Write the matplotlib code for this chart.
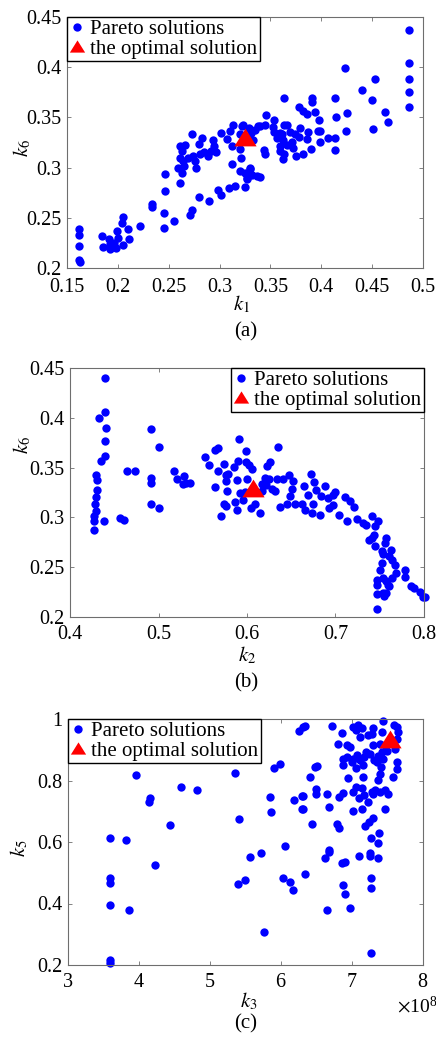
import numpy as np
import matplotlib.pyplot as plt
from matplotlib.path import Path
from matplotlib.ticker import FormatStrFormatter, ScalarFormatter

plt.rcParams['font.family'] = ['Liberation Serif', 'DejaVu Serif']
plt.rcParams['mathtext.fontset'] = 'stix'

# Pareto front, k1 vs k6
k1_a = [0.162, 0.162, 0.162, 0.162, 0.163, 0.184, 0.185, 0.191, 0.192, 0.192, 0.196, 0.198, 0.199,
        0.200, 0.205, 0.205, 0.204, 0.210, 0.211, 0.222, 0.234, 0.234, 0.245, 0.245, 0.255, 0.246,
        0.246, 0.261, 0.259, 0.261, 0.263, 0.261, 0.264, 0.265, 0.263, 0.266, 0.269, 0.274, 0.277,
        0.276, 0.280, 0.283, 0.281, 0.285, 0.289, 0.292, 0.294, 0.295, 0.296, 0.273, 0.271, 0.273,
        0.280, 0.290, 0.298, 0.301, 0.309, 0.315, 0.325, 0.312, 0.320, 0.325, 0.330, 0.327, 0.332,
        0.337, 0.301, 0.307, 0.313, 0.310, 0.312, 0.320, 0.323, 0.320, 0.321, 0.331, 0.333, 0.338,
        0.486, 0.486, 0.486, 0.486, 0.486, 0.423, 0.453, 0.440, 0.450, 0.463, 0.466, 0.451, 0.413,
        0.414, 0.425, 0.424, 0.413, 0.413, 0.407, 0.399, 0.399, 0.398, 0.394, 0.391, 0.391, 0.386,
        0.382, 0.378, 0.363, 0.397, 0.387, 0.386, 0.390, 0.382, 0.375, 0.379, 0.378, 0.374, 0.371,
        0.369, 0.372, 0.366, 0.366, 0.363, 0.361, 0.359, 0.359, 0.359, 0.362, 0.363, 0.362, 0.356,
        0.354, 0.353, 0.354, 0.346, 0.345, 0.340, 0.344, 0.345, 0.335, 0.331, 0.329, 0.322, 0.330,
        0.327, 0.327, 0.340]
k6_a = [0.239, 0.233, 0.222, 0.208, 0.206, 0.232, 0.221, 0.229, 0.224, 0.219, 0.225, 0.220, 0.237,
        0.230, 0.223, 0.251, 0.245, 0.239, 0.229, 0.242, 0.264, 0.261, 0.255, 0.240, 0.247, 0.277,
        0.294, 0.285, 0.300, 0.322, 0.317, 0.310, 0.307, 0.302, 0.295, 0.323, 0.310, 0.312, 0.300,
        0.307, 0.324, 0.329, 0.314, 0.316, 0.312, 0.317, 0.327, 0.322, 0.316, 0.333, 0.253, 0.258,
        0.271, 0.267, 0.278, 0.273, 0.280, 0.282, 0.281, 0.304, 0.297, 0.295, 0.300, 0.290, 0.293,
        0.292, 0.334, 0.328, 0.342, 0.336, 0.322, 0.333, 0.342, 0.319, 0.310, 0.337, 0.327, 0.341,
        0.437, 0.404, 0.388, 0.375, 0.360, 0.399, 0.388, 0.377, 0.367, 0.355, 0.345, 0.338, 0.369,
        0.350, 0.354, 0.336, 0.329, 0.318, 0.329, 0.325, 0.336, 0.347, 0.355, 0.369, 0.365, 0.353,
        0.356, 0.360, 0.369, 0.336, 0.335, 0.328, 0.319, 0.314, 0.312, 0.339, 0.330, 0.333, 0.325,
        0.335, 0.320, 0.323, 0.342, 0.342, 0.333, 0.334, 0.322, 0.317, 0.309, 0.314, 0.327, 0.329,
        0.335, 0.340, 0.347, 0.352, 0.342, 0.341, 0.318, 0.314, 0.337, 0.334, 0.339, 0.341, 0.299,
        0.294, 0.289, 0.291]
best_a = (0.325, 0.330)

# Pareto front, k2 vs k6
k2_b = [0.439, 0.439, 0.433, 0.441, 0.439, 0.439, 0.435, 0.429, 0.431, 0.431, 0.429, 0.428, 0.429,
        0.427, 0.427, 0.438, 0.427, 0.457, 0.461, 0.464, 0.473, 0.491, 0.500, 0.492, 0.491, 0.492,
        0.501, 0.517, 0.521, 0.529, 0.528, 0.531, 0.536, 0.552, 0.557, 0.564, 0.567, 0.567, 0.564,
        0.571, 0.574, 0.576, 0.579, 0.576, 0.577, 0.574, 0.576, 0.586, 0.589, 0.585, 0.590, 0.591,
        0.589, 0.592, 0.599, 0.635, 0.599, 0.602, 0.606, 0.623, 0.626, 0.600, 0.620, 0.625, 0.617,
        0.621, 0.628, 0.632, 0.617, 0.598, 0.596, 0.609, 0.605, 0.615, 0.634, 0.641, 0.648, 0.652,
        0.637, 0.645, 0.649, 0.651, 0.654, 0.662, 0.666, 0.664, 0.669, 0.672, 0.676, 0.678, 0.675,
        0.674, 0.683, 0.684, 0.688, 0.691, 0.693, 0.697, 0.699, 0.697, 0.704, 0.711, 0.716, 0.721,
        0.713, 0.724, 0.731, 0.735, 0.741, 0.748, 0.745, 0.743, 0.741, 0.738, 0.745, 0.757, 0.756,
        0.752, 0.754, 0.760, 0.763, 0.764, 0.767, 0.752, 0.750, 0.747, 0.747, 0.747, 0.747, 0.757,
        0.760, 0.757, 0.755, 0.764, 0.768, 0.779, 0.779, 0.785, 0.789, 0.795, 0.799, 0.801, 0.754,
        0.754, 0.759]
k6_b = [0.440, 0.406, 0.400, 0.390, 0.377, 0.362, 0.357, 0.343, 0.338, 0.328, 0.320, 0.313, 0.306,
        0.301, 0.296, 0.296, 0.287, 0.299, 0.297, 0.347, 0.347, 0.389, 0.371, 0.340, 0.335, 0.313,
        0.309, 0.347, 0.339, 0.342, 0.334, 0.335, 0.335, 0.361, 0.353, 0.368, 0.370, 0.347, 0.331,
        0.301, 0.354, 0.343, 0.344, 0.337, 0.327, 0.313, 0.311, 0.315, 0.307, 0.351, 0.357, 0.379,
        0.338, 0.324, 0.367, 0.371, 0.356, 0.353, 0.349, 0.352, 0.356, 0.339, 0.340, 0.339, 0.334,
        0.333, 0.329, 0.327, 0.327, 0.326, 0.317, 0.313, 0.309, 0.304, 0.339, 0.339, 0.343, 0.337,
        0.310, 0.313, 0.321, 0.329, 0.313, 0.313, 0.307, 0.332, 0.322, 0.344, 0.336, 0.328, 0.313,
        0.304, 0.302, 0.321, 0.332, 0.319, 0.309, 0.312, 0.326, 0.322, 0.302, 0.320, 0.316, 0.310,
        0.296, 0.298, 0.294, 0.292, 0.301, 0.296, 0.291, 0.282, 0.279, 0.277, 0.271, 0.279, 0.274,
        0.266, 0.263, 0.261, 0.267, 0.257, 0.252, 0.254, 0.247, 0.237, 0.232, 0.223, 0.208, 0.236,
        0.231, 0.224, 0.221, 0.239, 0.244, 0.247, 0.240, 0.231, 0.229, 0.225, 0.220, 0.220, 0.239,
        0.224, 0.232]
best_b = (0.607, 0.330)

# Pareto front, k3 vs k5 (k3 in units of 1e8)
k3_c = [3.957, 3.596, 3.821, 3.596, 3.596, 3.596, 3.854, 3.596, 3.596, 4.136, 4.159, 4.230, 4.441,
        4.596, 4.816, 5.347, 5.403, 5.389, 5.488, 5.558, 5.722, 5.755, 5.848, 5.858, 5.896, 5.989,
        6.060, 6.027, 6.130, 6.168, 6.178, 6.295, 6.295, 6.257, 6.313, 6.337, 6.619, 6.680, 6.643,
        6.853, 6.900, 6.868, 6.900, 6.971, 7.102, 7.256, 7.256, 7.262, 7.262, 7.262, 7.369, 6.337,
        6.713, 6.853, 7.017, 7.087, 7.135, 7.055, 7.112, 7.228, 7.299, 7.276, 7.430, 7.416, 7.590,
        7.627, 7.651, 7.637, 7.605, 7.627, 7.637, 7.572, 7.510, 7.463, 7.463, 7.393, 7.323, 7.299,
        7.393, 7.463, 7.496, 7.416, 7.369, 7.440, 7.355, 7.402, 7.393, 7.369, 7.309, 7.290, 7.252,
        7.196, 7.168, 7.158, 7.149, 7.112, 7.065, 7.008, 6.971, 6.924, 6.877, 6.994, 7.055, 6.511,
        6.407, 6.946, 6.492, 6.492, 6.643, 6.313, 6.313, 6.680, 6.820, 6.877, 7.008, 7.055, 7.135,
        7.102, 7.168, 7.228, 7.276, 7.135, 7.017, 6.431, 6.792, 6.820, 7.182, 7.243, 7.299, 7.262,
        7.379, 7.369, 6.675, 6.478, 6.924, 6.877, 6.805]
k5_c = [0.819, 0.614, 0.605, 0.483, 0.467, 0.396, 0.378, 0.215, 0.207, 0.730, 0.743, 0.524, 0.656,
        0.779, 0.768, 0.824, 0.674, 0.464, 0.477, 0.551, 0.564, 0.307, 0.746, 0.698, 0.841, 0.855,
        0.586, 0.484, 0.470, 0.445, 0.738, 0.706, 0.750, 0.960, 0.975, 0.496, 0.548, 0.568, 0.379,
        0.531, 0.534, 0.461, 0.430, 0.386, 0.556, 0.563, 0.554, 0.482, 0.449, 0.238, 0.547, 0.977,
        0.977, 0.955, 0.974, 0.982, 0.971, 0.963, 0.941, 0.947, 0.971, 0.952, 0.992, 0.958, 0.982,
        0.974, 0.958, 0.936, 0.903, 0.860, 0.838, 0.811, 0.757, 0.768, 0.708, 0.763, 0.768, 0.757,
        0.920, 0.914, 0.895, 0.893, 0.880, 0.871, 0.860, 0.844, 0.822, 0.801, 0.866, 0.914, 0.887,
        0.893, 0.876, 0.849, 0.811, 0.866, 0.884, 0.871, 0.909, 0.914, 0.871, 0.860, 0.841, 0.846,
        0.811, 0.808, 0.771, 0.757, 0.757, 0.750, 0.706, 0.714, 0.746, 0.760, 0.763, 0.779, 0.776,
        0.743, 0.754, 0.730, 0.763, 0.708, 0.700, 0.660, 0.660, 0.646, 0.652, 0.665, 0.678, 0.613,
        0.630, 0.598, 0.573, 0.843, 0.875, 0.850, 0.919]
best_c = (7.54, 0.935)

# axes boxes in pixels: left, top, right, bottom
W, H = 436, 1037
boxes = [(67, 17, 423, 268), (70, 368, 424, 617), (68, 719, 423, 965)]

# wider-than-tall triangle for the optimal point
tri = Path([(0, 0.8), (-1, -0.8), (1, -0.8), (0, 0.8)],
           [Path.MOVETO, Path.LINETO, Path.LINETO, Path.CLOSEPOLY])

fig = plt.figure(figsize=(W / 100, H / 100), dpi=100)


def make_axes(box, xpad=5.5):
    l, t, r, b = box
    ax = fig.add_axes([l / W, 1 - b / H, (r - l) / W, (b - t) / H])
    for s in ax.spines.values():
        s.set_color('#6e6e6e')
        s.set_linewidth(0.8)
    ax.tick_params(direction='in', top=True, right=True, length=3, width=0.6,
                   color='#6e6e6e', labelsize=14.5, pad=4)
    ax.tick_params(axis='x', pad=xpad)
    return ax


def draw(ax, x, y, best, loc):
    ax.plot(x, y, 'o', color='#0000ff', ms=6, mew=0, clip_on=False,
            label='Pareto solutions')
    ax.plot(best[0], best[1], marker=tri, color='#ff0000', ms=16, mew=0,
            linestyle='none', label='the optimal solution')
    leg = ax.legend(loc=loc, fontsize=15, fancybox=False, framealpha=1,
                    edgecolor='black', borderaxespad=0, borderpad=0.12,
                    handlelength=0.7, handletextpad=0.3, labelspacing=0,
                    numpoints=1)
    leg.get_frame().set_linewidth(1.0)
    leg.legend_handles[1].set_markersize(11)
    return leg


# (a)
ax = make_axes(boxes[0], xpad=7.5)
draw(ax, k1_a, k6_a, best_a, 'upper left')
ax.set_xlim(0.15, 0.5)
ax.set_ylim(0.2, 0.45)
ax.set_xticks(np.arange(0.15, 0.501, 0.05))
ax.set_yticks(np.arange(0.2, 0.451, 0.05))
ax.xaxis.set_major_formatter(FormatStrFormatter('%g'))
ax.yaxis.set_major_formatter(FormatStrFormatter('%g'))
ax.set_xlabel('$k_1$', fontsize=15)
ax.set_ylabel('$k_6$', fontsize=15)
ax.xaxis.set_label_coords(0.49, -0.1)
ax.yaxis.set_label_coords(-0.095, 0.48)

# (b)
ax = make_axes(boxes[1])
draw(ax, k2_b, k6_b, best_b, 'upper right')
ax.set_xlim(0.4, 0.8)
ax.set_ylim(0.2, 0.45)
ax.set_xticks(np.arange(0.4, 0.801, 0.1))
ax.set_yticks(np.arange(0.2, 0.451, 0.05))
ax.xaxis.set_major_formatter(FormatStrFormatter('%g'))
ax.yaxis.set_major_formatter(FormatStrFormatter('%g'))
ax.set_xlabel('$k_2$', fontsize=15)
ax.set_ylabel('$k_6$', fontsize=15)
ax.xaxis.set_label_coords(0.5, -0.11)
ax.yaxis.set_label_coords(-0.105, 0.69)

# (c)
ax = make_axes(boxes[2])
draw(ax, np.array(k3_c) * 1e8, k5_c, (best_c[0] * 1e8, best_c[1]), 'upper left')
ax.set_xlim(3e8, 8e8)
ax.set_ylim(0.2, 1.0)
ax.set_xticks(np.arange(3, 8.01, 1) * 1e8)
ax.set_yticks(np.arange(0.2, 1.01, 0.2))
fmt = ScalarFormatter(useMathText=True)
fmt.set_powerlimits((-3, 3))
ax.xaxis.set_major_formatter(fmt)
ax.yaxis.set_major_formatter(FormatStrFormatter('%g'))
ax.xaxis.offsetText.set_fontsize(14)
ax.xaxis.offsetText.set_x(1.04)
ax.set_xlabel('$k_3$', fontsize=15)
ax.set_ylabel('$k_5$', fontsize=15)
ax.xaxis.set_label_coords(0.51, -0.105)
ax.yaxis.set_label_coords(-0.107, 0.475)

# panel captions
for lab, yc in [('(a)', 332), ('(b)', 683), ('(c)', 1024)]:
    fig.text(246 / W, 1 - yc / H, lab, ha='center', va='center', fontsize=15)

fig.savefig('out.png', dpi=100)
